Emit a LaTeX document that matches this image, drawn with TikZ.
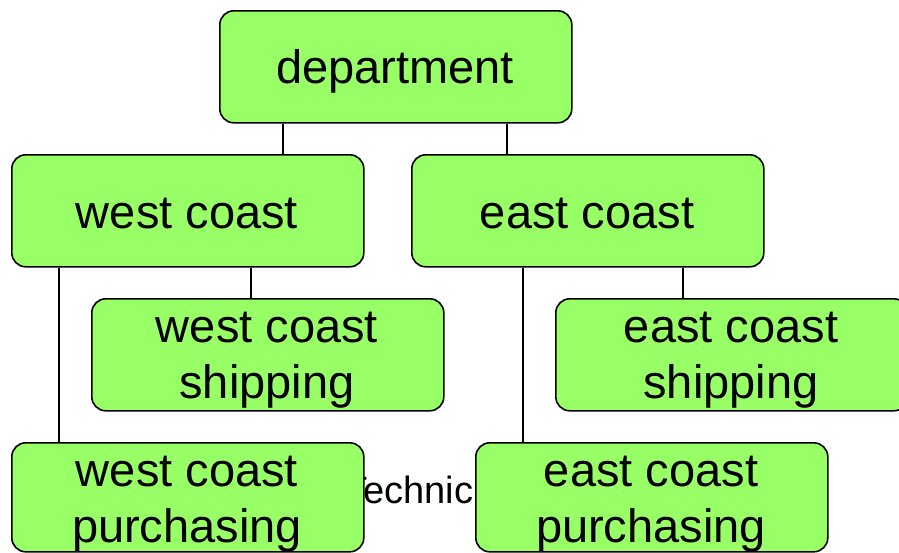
\documentclass[tikz,border=0pt]{standalone}
\usepackage{fontspec}
\setmainfont{Liberation Sans}
\definecolor{boxgreen}{HTML}{99FF66}
\begin{document}
\begin{tikzpicture}[x=1pt,y=-1pt,
  orgbox/.style={draw=black, line width=1.6pt, fill=boxgreen, rounded corners=14pt,
    minimum width=352pt, minimum height=112pt, inner sep=0pt, anchor=north west},
  lowbox/.style={orgbox, minimum height=109pt},
  lbl/.style={font=\fontsize{47}{56}\selectfont, anchor=base, inner sep=0pt},
  link/.style={draw=black, line width=2pt}]
\useasboundingbox (0,0) rectangle (899,552);
% text partly hidden behind the boxes
\node[font=\fontsize{38}{44}\selectfont, anchor=base west, inner sep=0pt] (tech) at (344,503) {Technic};
% boxes
\node[orgbox] (dept) at (219,10) {};
\node[orgbox] (wc) at (11,154) {};
\node[orgbox] (ec) at (411,154) {};
\node[orgbox] (wcs) at (91,298) {};
\node[orgbox] (ecs) at (555,298) {};
\node[lowbox] (wcp) at (11,442) {};
\node[lowbox] (ecp) at (475,442) {};
% connectors
\draw[link] (dept.south -| 283,0) -- (wc.north -| 283,0);
\draw[link] (dept.south -| 507,0) -- (ec.north -| 507,0);
\draw[link] (wc.south -| 251,0) -- (wcs.north -| 251,0);
\draw[link] (wc.south -| 59,0) -- (wcp.north -| 59,0);
\draw[link] (ec.south -| 683,0) -- (ecs.north -| 683,0);
\draw[link] (ec.south -| 523,0) -- (ecp.north -| 523,0);
% labels
\node[lbl] (dept-t) at (395,83) {department};
\node[lbl] (wc-t) at (187,228) {west coast};
\node[lbl] (ec-t) at (587,228) {east coast};
\node[lbl] (wcs-t1) at (267,342) {west coast};
\node[lbl] (wcs-t2) at (267,398) {shipping};
\node[lbl] (ecs-t1) at (731,342) {east coast};
\node[lbl] (ecs-t2) at (731,398) {shipping};
\node[lbl] (wcp-t1) at (187,486) {west coast};
\node[lbl] (wcp-t2) at (187,542) {purchasing};
\node[lbl] (ecp-t1) at (651,486) {east coast};
\node[lbl] (ecp-t2) at (651,542) {purchasing};
\end{tikzpicture}
\end{document}
